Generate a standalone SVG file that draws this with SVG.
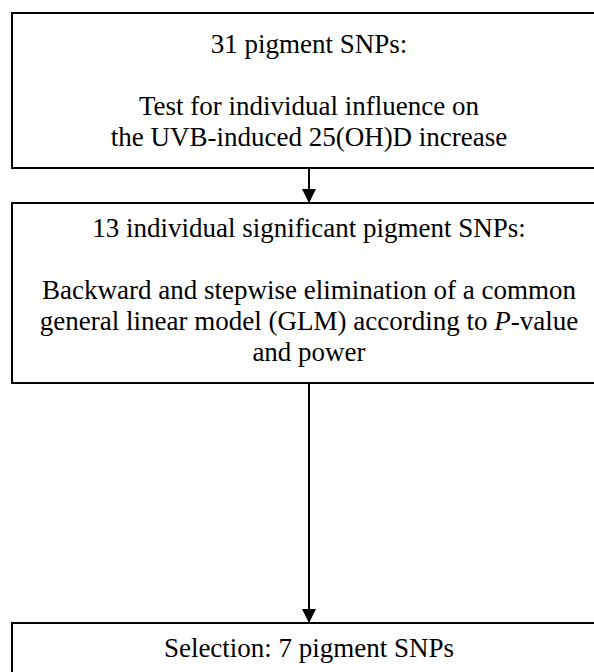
<svg xmlns="http://www.w3.org/2000/svg" width="594" height="672" viewBox="0 0 594 672">
  <style>
    .box { fill: #ffffff; stroke: #000000; stroke-width: 2; }
    .t { font-family: "Liberation Serif", "Times New Roman", serif; font-size: 27px; fill: #000000; text-anchor: middle; }
    .conn { stroke: #000000; stroke-width: 2; fill: none; }
  </style>
  <defs>
    <marker id="arrow" viewBox="0 0 14 14" refX="13" refY="7" markerWidth="14" markerHeight="14" markerUnits="userSpaceOnUse" orient="auto">
      <path d="M0,0 L14,7 L0,14 z" fill="#000000"/>
    </marker>
  </defs>
  <rect width="594" height="672" fill="#ffffff"/>
  <g id="node1">
    <rect class="box" x="12" y="13" width="594" height="155"/>
    <text class="t" x="309" y="53">31 pigment SNPs:</text>
    <text class="t" x="309" y="115">Test for individual influence on</text>
    <text class="t" x="309" y="146">the UVB-induced 25(OH)D increase</text>
  </g>
  <g id="node2">
    <rect class="box" x="12" y="203" width="594" height="180"/>
    <text class="t" x="309" y="237">13 individual significant pigment SNPs:</text>
    <text class="t" x="309" y="299">Backward and stepwise elimination of a common</text>
    <text class="t" x="309" y="330">general linear model (GLM) according to <tspan font-style="italic">P</tspan>-value</text>
    <text class="t" x="309" y="361">and power</text>
  </g>
  <g id="node3">
    <rect class="box" x="12" y="623" width="594" height="80"/>
    <text class="t" x="309" y="657">Selection: 7 pigment SNPs</text>
  </g>
  <g id="connectors">
    <line class="conn" x1="309" y1="168" x2="309" y2="202" marker-end="url(#arrow)"/>
    <line class="conn" x1="309" y1="383" x2="309" y2="622" marker-end="url(#arrow)"/>
  </g>
</svg>
